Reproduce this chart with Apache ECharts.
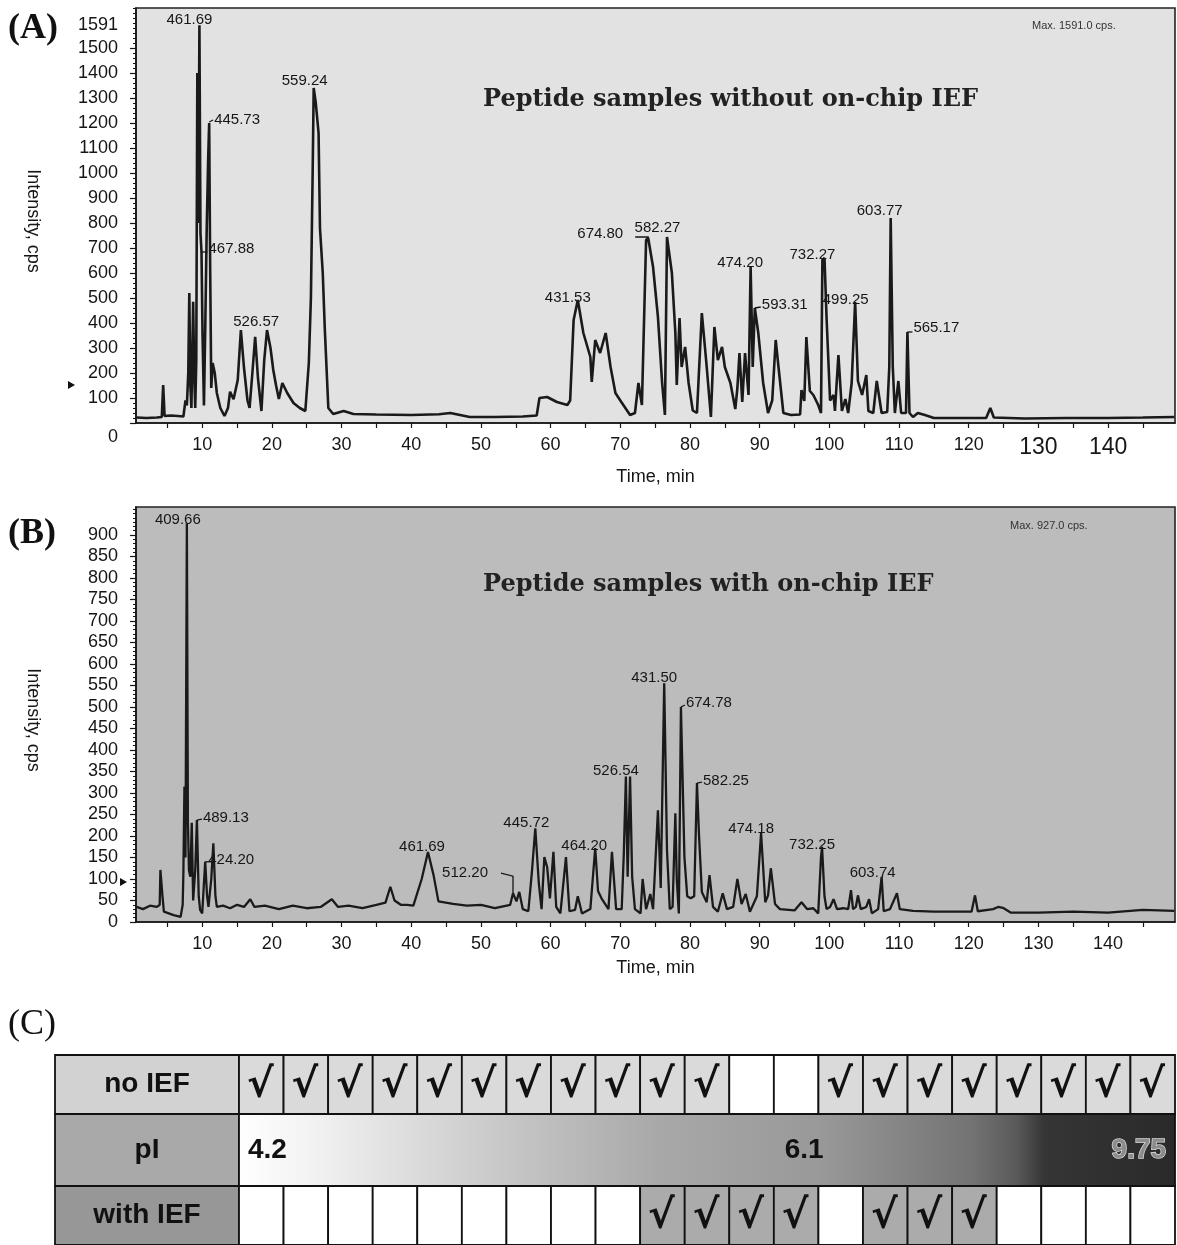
<!DOCTYPE html>
<html><head><meta charset="utf-8">
<script src="https://cdn.jsdelivr.net/npm/echarts@6/dist/echarts.min.js"></script>
<style>html,body{margin:0;padding:0;background:#fff}#c{width:1177px;height:1245px}</style>
</head><body><div id="c"></div>
<script>
// ---------- DATA ----------
// Panel A: TIC without on-chip IEF  [time(min), intensity(cps)]
const traceA = [
[0.6,22],[2,20],[3.5,22],[4.2,24],[4.4,152],[4.6,28],[5.5,30],[6.5,28],[7.3,26],[7.6,90],[7.8,70],[8.0,200],[8.15,520],[8.3,150],[8.45,60],[8.6,300],[8.7,485],[8.85,200],[9.0,60],[9.15,250],[9.3,1400],[9.45,800],[9.6,1591],[9.75,760],[9.9,684],[10.05,350],[10.25,70],[10.45,400],[10.65,780],[10.85,1050],[11.0,1200],[11.15,600],[11.3,140],[11.5,240],[11.8,200],[12.1,120],[12.6,60],[13.2,28],[13.7,60],[14.0,125],[14.5,95],[15.1,172],[15.55,372],[16.0,220],[16.5,90],[16.8,60],[17.2,200],[17.6,345],[18.0,180],[18.5,48],[18.9,250],[19.3,372],[19.8,300],[20.2,212],[20.6,150],[21.0,96],[21.5,160],[22.2,120],[23.1,80],[24.0,60],[24.8,48],[25.3,240],[25.6,500],[25.85,1000],[26.0,1340],[26.3,1280],[26.7,1160],[26.9,780],[27.3,600],[27.6,372],[28.1,60],[28.8,36],[30.3,48],[31.7,36],[35,34],[40,32],[44,35],[45.6,40],[48.4,24],[52,24],[56,26],[58.0,30],[58.4,100],[59.5,104],[60.9,84],[62.4,72],[62.8,90],[63.3,412],[63.9,492],[64.7,360],[65.7,264],[65.9,164],[66.4,332],[67.1,280],[67.9,360],[68.6,224],[69.3,120],[70.0,90],[71.4,32],[72.1,40],[72.6,160],[73.1,72],[73.7,732],[74.0,740],[74.7,624],[75.4,424],[76.0,160],[76.4,32],[76.7,744],[77.4,600],[77.9,360],[78.1,152],[78.5,420],[78.8,224],[79.3,304],[79.8,160],[80.4,50],[81.0,40],[81.7,440],[82.4,224],[83.0,24],[83.5,384],[84.0,252],[84.6,304],[85.0,224],[85.8,160],[86.5,56],[86.8,140],[87.1,280],[87.5,84],[87.9,280],[88.4,112],[88.7,624],[89.0,224],[89.3,460],[89.8,360],[90.5,160],[91.2,40],[91.8,90],[92.3,332],[92.7,224],[93.4,40],[94.5,32],[95.8,34],[96.0,132],[96.4,88],[96.7,344],[97.2,128],[97.7,112],[98.4,72],[98.8,40],[99.0,652],[99.3,660],[99.6,420],[100.1,90],[100.6,112],[100.8,48],[101.3,272],[101.8,48],[102.3,96],[102.7,40],[103.2,160],[103.7,484],[104.1,168],[104.7,112],[105.3,192],[105.6,48],[106.3,40],[106.8,168],[107.5,40],[108.3,44],[108.6,224],[108.8,820],[109.1,224],[109.4,40],[109.9,168],[110.3,40],[111.0,40],[111.2,364],[111.5,40],[112.0,24],[112.7,40],[113.7,32],[115,20],[118,20],[122.5,20],[123.1,60],[123.6,22],[128,18],[134,20],[140,20],[145,22],[149.5,24]
];
// Panel B: TIC with on-chip IEF
const traceB = [
[0.6,35],[1.5,30],[2.5,38],[3.5,35],[3.9,40],[4.0,121],[4.3,60],[4.5,24],[5.9,16],[6.9,12],[7.2,40],[7.3,114],[7.45,315],[7.6,150],[7.8,927],[7.95,230],[8.1,120],[8.3,105],[8.5,231],[8.7,50],[9.0,121],[9.24,237],[9.5,60],[9.7,28],[10.0,20],[10.43,140],[10.7,60],[10.9,35],[11.3,100],[11.6,183],[11.9,60],[12.1,35],[13,38],[14,32],[15,40],[16,35],[16.9,53],[17.5,35],[19,38],[21,30],[23,38],[25,32],[27,35],[28.6,53],[29.5,35],[31,38],[33,32],[35,40],[36.3,45],[37.0,82],[37.6,50],[38.5,40],[39.4,40],[40.3,38],[41.5,100],[42.4,163],[43.2,109],[43.9,48],[46,42],[48,38],[50,40],[52,32],[54.2,40],[54.6,67],[55.1,48],[55.5,70],[56.0,30],[56.8,25],[57.3,114],[57.8,218],[58.3,91],[58.7,30],[59.1,151],[59.5,128],[59.9,55],[60.4,163],[60.8,35],[61.4,20],[62.2,151],[62.7,25],[63.5,28],[63.9,60],[64.5,20],[65.7,30],[66.4,172],[66.8,72],[67.3,55],[68.3,30],[68.8,163],[69.4,30],[70.2,30],[70.5,158],[70.8,338],[71.05,105],[71.4,338],[71.7,105],[72.1,30],[72.9,20],[73.2,100],[73.7,30],[74.3,65],[74.7,30],[75.4,260],[75.8,79],[76.3,555],[76.7,167],[77.1,30],[77.5,35],[77.9,253],[78.1,100],[78.4,20],[78.7,500],[79.2,151],[79.6,60],[80.1,55],[80.6,60],[81.0,323],[81.3,200],[81.7,70],[82.4,46],[82.8,109],[83.3,35],[84.0,24],[84.7,67],[85.3,30],[86.2,35],[86.8,100],[87.4,42],[88.0,65],[88.6,24],[89.6,60],[90.2,207],[90.8,46],[91.2,62],[91.6,125],[92.2,42],[92.9,30],[95,27],[96.0,46],[96.8,30],[97.7,32],[98.4,20],[98.8,151],[98.95,175],[99.3,60],[99.6,30],[100.1,35],[100.6,53],[101.1,30],[102.0,32],[102.7,30],[103.1,74],[103.4,30],[103.8,35],[104.1,62],[104.5,30],[105.3,35],[105.7,53],[106.1,20],[107.0,30],[107.5,105],[107.8,25],[108.7,30],[109.7,67],[110.1,30],[112,26],[115,24],[118,24],[120.4,24],[120.9,62],[121.3,25],[123.5,30],[124.2,35],[124.9,33],[126,22],[130,22],[135,24],[140,22],[145,28],[149.5,26]
];
// peak annotations [time, intensity, m/z]
const peaksA = [[9.6,1591,'461.69'],[11.0,1200,'445.73'],[9.9,684,'467.88'],[17.6,345,'526.57'],[26.0,1340,'559.24'],[63.9,492,'431.53'],[74.0,740,'674.80'],[76.7,744,'582.27'],[88.7,624,'474.20'],[89.3,460,'593.31'],[99.0,652,'732.27'],[103.7,484,'499.25'],[108.8,820,'603.77'],[111.2,364,'565.17']];
const peaksB = [[7.8,927,'409.66'],[9.24,237,'489.13'],[10.43,140,'424.20'],[42.4,163,'461.69'],[54.6,67,'512.20'],[57.8,218,'445.72'],[66.4,172,'464.20'],[70.8,338,'526.54'],[76.3,555,'431.50'],[78.7,500,'674.78'],[81.0,323,'582.25'],[90.2,207,'474.18'],[98.95,175,'732.25'],[107.5,105,'603.74']];
// tick labels
const xLabels = [10,20,30,40,50,60,70,80,90,100,110,120,130,140];
const xTicks = [5,10,15,20,25,30,35,40,45,50,55,60,65,70,75,80,85,90,95,100,105,110,115,120,125,130,135,140,145];
const yLabelsA = [0,100,200,300,400,500,600,700,800,900,1000,1100,1200,1300,1400,1500,1591];
const yLabelsB = [0,50,100,150,200,250,300,350,400,450,500,550,600,650,700,750,800,850,900];
// table (C)
const tableRows = ['no IEF','pI','with IEF'];
const noIEF   = [1,1,1,1,1,1,1,1,1,1,1,0,0,1,1,1,1,1,1,1,1];
const withIEF = [0,0,0,0,0,0,0,0,0,1,1,1,1,0,1,1,1,0,0,0,0];
const pIValues = ['4.2','6.1','9.75'];

// ---------- LAYOUT / STYLE ----------
const FONT = '"Liberation Sans", Arial, sans-serif';
const INK = '#161616';
// label offsets [dx, dy, align, hook points]
const offA = [[-10,-5,'center'],[5,-3,'left',[[0,-1],[4,-3]]],[7,-3,'left',[[0,0],[6,0]]],[1,-15,'center'],[-9,-7,'center'],[-10,-2,'center'],[-25,-4,'right',[[0,0],[0,-1],[-13,-1]]],[-9.5,-9,'center'],[-10.5,-4,'center'],[7,-3,'left',[[0,0],[6,-1]]],[-10,-5,'center'],[-9.5,-2,'center'],[-11,-7,'center'],[6,-4,'left',[[0,0],[5,0]]]];
const offB = [[-9,-3,'center'],[6,-2,'left',[[0,0],[5,-1]]],[3,-2,'left',[[0,0],[8,0]]],[-6,-5,'center'],[-25,-20,'right',[[0,0],[0,-17],[-12,-20]]],[-9,-5,'center'],[-11,-2,'center'],[-10,-6,'center'],[-10,-5,'center'],[5,-4,'left',[[0,0],[4,-2]]],[6,-2,'left',[[0,0],[5,-1]]],[-10,-4,'center'],[-10,-2,'center'],[-9,-4,'center']];
const headerW = 4.128;              // header column width in cell units
const rowEdges = [0, 59, 131, 190]; // table row edges (px units on hidden axis)
const pITextPos = [[0.2,'left','#111'],[12.68,'center','#111'],[20.8,'right','#8c8c8c']];
const headColors = ['#d2d2d2','#a9a9a9','#979797'];

function range(a,b,s){const r=[];for(let v=a;v<=b+1e-9;v+=s)r.push(+v.toFixed(6));return r;}

function peakLabelSeries(peaks, offs, idx){
  return {
    type:'custom', xAxisIndex:idx, yAxisIndex:idx*2, clip:false, silent:true, z:5,
    data: peaks.map(p=>[p[0],p[1]]), encode:{x:0,y:1},
    renderItem(params, api){
      const i = params.dataIndex;
      const p = api.coord([api.value(0), api.value(1)]);
      const o = offs[i];
      const kids = [{type:'text', style:{text:peaks[i][2], x:p[0]+o[0], y:p[1]+o[1], align:o[2], verticalAlign:'middle', font:'15px '+FONT, fill:INK}}];
      if (o[3]) kids.push({type:'polyline', shape:{points:o[3].map(q=>[p[0]+q[0],p[1]+q[1]])}, style:{stroke:INK, lineWidth:1.3, fill:null}});
      return {type:'group', children:kids};
    }
  };
}

// table cells built from the arrays
const cells = [];
tableRows.forEach((n,r)=>cells.push({x0:-headerW,x1:0,row:r,kind:'head',text:n}));
noIEF.forEach((c,i)=>cells.push({x0:i,x1:i+1,row:0,kind:'cell',on:c}));
cells.push({x0:0,x1:noIEF.length,row:1,kind:'pI'});
withIEF.forEach((c,i)=>cells.push({x0:i,x1:i+1,row:2,kind:'cell',on:c}));

const tableSeries = {
  type:'custom', xAxisIndex:2, yAxisIndex:4, clip:false, silent:true,
  data: cells.map(c=>[c.x0, rowEdges[c.row]]), encode:{x:0,y:1},
  renderItem(params, api){
    const c = cells[params.dataIndex];
    const p0 = api.coord([c.x0, rowEdges[c.row]]);
    const p1 = api.coord([c.x1, rowEdges[c.row+1]]);
    const w = p1[0]-p0[0], h = p1[1]-p0[1];
    const kids = [];
    let fill = '#ffffff';
    if (c.kind==='head') fill = headColors[c.row];
    else if (c.kind==='cell' && c.on) fill = c.row===0 ? '#dadada' : '#ababab';
    else if (c.kind==='pI') fill = new echarts.graphic.LinearGradient(0,0,1,0,[
      {offset:0,color:'#ffffff'},{offset:0.08,color:'#f2f2f2'},{offset:0.3,color:'#c4c4c4'},{offset:0.45,color:'#a8a8a8'},
      {offset:0.62,color:'#999999'},{offset:0.78,color:'#747474'},{offset:0.83,color:'#5a5a5a'},{offset:0.86,color:'#353535'},{offset:1,color:'#2a2a2a'}]);
    kids.push({type:'rect', shape:{x:p0[0],y:p0[1],width:w,height:h}, style:{fill, stroke:'#111', lineWidth:1.8}});
    const cx = p0[0]+w/2, cy = p0[1]+h/2;
    if (c.kind==='head') kids.push({type:'text', style:{text:c.text, x:cx, y:cy, align:'center', verticalAlign:'middle', font:'bold 28px '+FONT, fill:'#111'}});
    if (c.kind==='cell' && c.on) kids.push({type:'text', style:{text:'\u221A', x:cx-1, y:cy+2, align:'center', verticalAlign:'middle', font:'bold 40px "DejaVu Sans"', fill:'#111'}});
    if (c.kind==='pI') {
      pIValues.forEach((t,k)=>{
        const q = api.coord([pITextPos[k][0], rowEdges[1]]);
        const st = {text:t, x:q[0], y:cy, align:pITextPos[k][1], verticalAlign:'middle', font:'bold 28px '+FONT, fill:pITextPos[k][2]};
        if (k===2){ st.stroke='#d8d8d8'; st.lineWidth=1.5; }
        kids.push({type:'text', style:st});
      });
    }
    return {type:'group', children:kids};
  }
};

function xAxisDef(grid, big, gap){
  return {
    gridIndex:grid, type:'value', min:0.5, max:149.6,
    axisLine:{lineStyle:{color:INK,width:1.6}},
    axisTick:{customValues:xTicks, length:5, lineStyle:{color:INK,width:1.2}},
    axisLabel:{customValues:xLabels, margin:13, fontSize:18, color:INK, fontFamily:FONT,
      formatter: v => (big && v>=130) ? '{b|'+v+'}' : String(v), rich:{b:{fontSize:23, fontFamily:FONT, color:INK}}},
    splitLine:{show:false},
    name:'Time, min', nameLocation:'middle', nameGap:gap, nameTextStyle:{fontSize:18, color:INK, fontFamily:FONT}
  };
}
function yAxisMain(grid, max, labels, majorTicks, zeroShift){
  return {
    gridIndex:grid, type:'value', min:0, max:max,
    axisLine:{show:true, lineStyle:{color:INK,width:1.6}},
    axisTick:{show:true, customValues:majorTicks, length:6, lineStyle:{color:INK,width:1.2}},
    axisLabel:{customValues:labels, margin:18, fontSize:18, color:INK, fontFamily:FONT,
      formatter: v => (zeroShift && v===0) ? '{z|0}' : String(v), rich:{z:{fontSize:18, fontFamily:FONT, color:INK, padding:[28,0,0,0]}}},
    splitLine:{show:false}
  };
}
function yAxisMinor(grid, max, ticks){
  return {gridIndex:grid, type:'value', min:0, max:max, position:'left',
    axisLine:{show:false}, axisLabel:{show:false}, splitLine:{show:false},
    axisTick:{show:true, customValues:ticks, length:3, lineStyle:{color:INK,width:1}}};
}

const chart = echarts.init(document.getElementById('c'), null, {width:1177, height:1245});
chart.setOption({
  animation:false,
  backgroundColor:'#ffffff',
  grid:[
    {left:136, top:8, width:1039, height:415, show:true, backgroundColor:'#e2e2e2', borderColor:'#222', borderWidth:1.6},
    {left:136, top:507, width:1039, height:415, show:true, backgroundColor:'#bcbcbc', borderColor:'#222', borderWidth:1.6},
    {left:55, top:1055, width:1120, height:190}
  ],
  xAxis:[ xAxisDef(0,true,45), xAxisDef(1,false,37),
    {gridIndex:2, type:'value', min:-headerW, max:noIEF.length, show:false} ],
  yAxis:[
    yAxisMain(0,1660,yLabelsA, yLabelsA.slice(0,16), true), yAxisMinor(0,1660, range(0,1660,20)),
    yAxisMain(1,965,yLabelsB, yLabelsB, false), yAxisMinor(1,965, range(0,960,10)),
    {gridIndex:2, type:'value', min:0, max:rowEdges[3], inverse:true, show:false}
  ],
  series:[
    {type:'line', xAxisIndex:0, yAxisIndex:0, data:traceA, showSymbol:false, symbol:'none', lineStyle:{color:'#1a1a1a', width:2.6}, z:3},
    {type:'line', xAxisIndex:1, yAxisIndex:2, data:traceB, showSymbol:false, symbol:'none', lineStyle:{color:'#1a1a1a', width:2.3}, z:3},
    peakLabelSeries(peaksA, offA, 0),
    peakLabelSeries(peaksB, offB, 1),
    tableSeries
  ],
  graphic:[
    {id:'lA', type:'text', x:8, y:29, style:{text:'(A)', font:'bold 36px "Liberation Serif", serif', fill:'#111', verticalAlign:'middle'}},
    {id:'lB', type:'text', x:8, y:534, style:{text:'(B)', font:'bold 36px "Liberation Serif", serif', fill:'#111', verticalAlign:'middle'}},
    {id:'lC', type:'text', x:8, y:1025, style:{text:'(C)', font:'36px "Liberation Serif", serif', fill:'#111', verticalAlign:'middle'}},
    {id:'tA', type:'text', x:483, y:100, style:{text:'Peptide samples without on-chip IEF', font:'bold 24px "DejaVu Serif", serif', fill:'#222', verticalAlign:'middle'}},
    {id:'tB', type:'text', x:483, y:585, style:{text:'Peptide samples with on-chip IEF', font:'bold 24px "DejaVu Serif", serif', fill:'#222', verticalAlign:'middle'}},
    {id:'mA', type:'text', x:1032, y:26, style:{text:'Max. 1591.0 cps.', font:'11px '+FONT, fill:'#333', verticalAlign:'middle'}},
    {id:'mB', type:'text', x:1010, y:526, style:{text:'Max. 927.0 cps.', font:'11px '+FONT, fill:'#333', verticalAlign:'middle'}},
    {id:'yA', type:'text', x:33, y:221, rotation:-Math.PI/2, style:{text:'Intensity, cps', font:'18px '+FONT, fill:INK, align:'center', verticalAlign:'middle'}},
    {id:'yB', type:'text', x:33, y:720, rotation:-Math.PI/2, style:{text:'Intensity, cps', font:'18px '+FONT, fill:INK, align:'center', verticalAlign:'middle'}}
  ]
});
// small threshold markers beside the intensity axes
const ta = chart.convertToPixel({yAxisIndex:0}, 152);
const tb = chart.convertToPixel({yAxisIndex:2}, 93);
chart.setOption({graphic:[
  {id:'triA', type:'polygon', shape:{points:[[68,ta-4],[68,ta+4],[75,ta]]}, style:{fill:'#111'}},
  {id:'triB', type:'polygon', shape:{points:[[120,tb-4],[120,tb+4],[127,tb]]}, style:{fill:'#111'}}
]});
</script>
</body></html>
